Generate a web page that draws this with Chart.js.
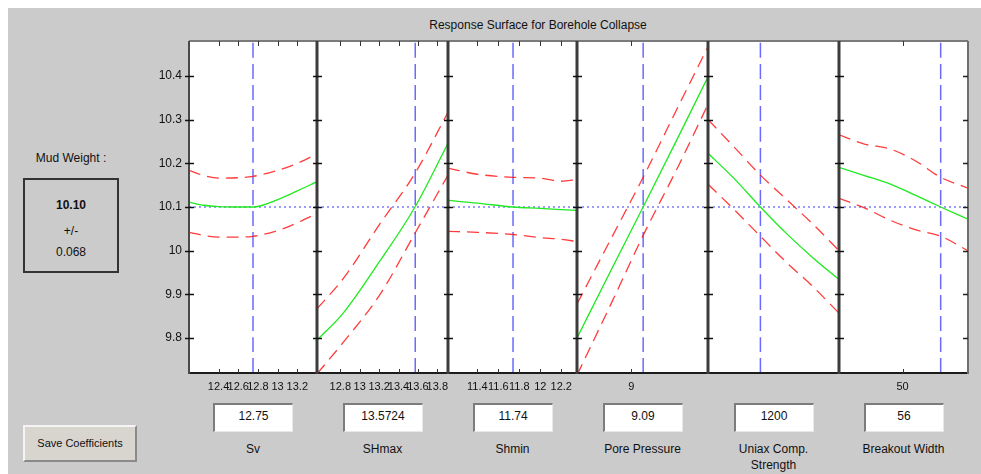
<!DOCTYPE html>
<html>
<head>
<meta charset="utf-8">
<script src="https://cdn.jsdelivr.net/npm/chart.js@4.4.1/dist/chart.umd.min.js"></script>
<style>
body { margin:0; width:981px; height:474px; background:#fff; overflow:hidden; position:relative;
  font-family:"Liberation Sans", Arial, sans-serif; color:#111 }
#panel { position:absolute; left:8px; top:8px; right:0; bottom:0; background:#cbcbcb }
canvas { position:absolute }
.txt { position:absolute; text-align:center; font-size:12px; white-space:nowrap }
.mwbox { position:absolute; left:23px; top:178px; width:96px; height:95px; box-sizing:border-box;
  border:2px solid #333; }
.edit { position:absolute; width:80px; height:29px; box-sizing:border-box; background:#fff;
  border-top:2px solid #7c7c7c; border-left:2px solid #7c7c7c; border-bottom:1px solid #e8e8e8; border-right:1px solid #e8e8e8;
  font-size:12px; text-align:center; line-height:22px }
.btn { position:absolute; left:23px; top:425px; width:114px; height:37px; box-sizing:border-box; background:#d8d5cf;
  border-top:2px solid #f4f4f4; border-left:2px solid #f4f4f4; border-bottom:2px solid #8a8a8a; border-right:2px solid #8a8a8a;
  font-size:11px; text-align:center; line-height:33px }
</style>
</head>
<body>
<div id="panel"></div>
<div class="txt" style="left:338px;width:400px;top:18px">Response Surface for Borehole Collapse</div>
<div class="txt" style="left:11px;width:120px;top:151px">Mud Weight :</div>
<div class="mwbox"></div>
<div class="txt" style="left:23px;width:96px;top:198px;font-weight:bold" id="mw"></div>
<div class="txt" style="left:23px;width:96px;top:224px">+/-</div>
<div class="txt" style="left:23px;width:96px;top:245px" id="mwerr"></div>
<div class="btn">Save Coefficients</div>

<script>
// mud weight result
const mudWeight = '10.10'
const mudWeightErr = '0.068'

// y axis (mud weight)
const yMin = 9.72, yMax = 10.48
const yTicks = [9.8, 9.9, 10, 10.1, 10.2, 10.3, 10.4]
const yLabels = ['9.8', '9.9', '10', '10.1', '10.2', '10.3', '10.4']
const target = 10.1

// panels
const names = ['Sv', 'SHmax', 'Shmin', 'Pore Pressure', 'Uniax Comp.<br>Strength', 'Breakout Width']
const current = [12.75, 13.5724, 11.74, 9.09, 1200, 56]
const xMin = [12.1, 12.56, 11.12, 8.59, 800, 40]
const xMax = [13.4, 13.91, 12.35, 9.58, 1800, 60.3]

const svTicks = [12.4, 12.6, 12.8, 13, 13.2]
const shmaxTicks = [12.8, 13, 13.2, 13.4, 13.6, 13.8]
const shminTicks = [11.4, 11.6, 11.8, 12, 12.2]
const ppTicks = [9]
const ucsTicks = []
const bwTicks = [50]

// Sv
const svX = [12.1, 12.25, 12.4, 12.6, 12.75, 13.0, 13.2, 13.4]
const svFit = [10.111, 10.104, 10.101, 10.1, 10.1, 10.117, 10.137, 10.158]
const svUp = [10.184, 10.172, 10.166, 10.167, 10.17, 10.184, 10.2, 10.222]
const svLo = [10.042, 10.035, 10.031, 10.031, 10.033, 10.046, 10.064, 10.085]
// SHmax
const shmaxX = [12.56, 12.83, 13.21, 13.57, 13.91]
const shmaxFit = [9.795, 9.857, 9.977, 10.1, 10.246]
const shmaxUp = [9.867, 9.936, 10.062, 10.177, 10.317]
const shmaxLo = [9.718, 9.79, 9.9, 10.04, 10.173]
// Shmin
const shminX = [11.12, 11.4, 11.74, 12.0, 12.2, 12.35]
const shminFit = [10.115, 10.109, 10.1, 10.097, 10.094, 10.092]
const shminUp = [10.189, 10.175, 10.168, 10.166, 10.159, 10.163]
const shminLo = [10.044, 10.042, 10.037, 10.03, 10.026, 10.021]
// Pore Pressure
const ppX = [8.59, 8.85, 9.09, 9.35, 9.58]
const ppFit = [9.8, 9.957, 10.1, 10.257, 10.398]
const ppUp = [9.878, 10.029, 10.168, 10.327, 10.467]
const ppLo = [9.715, 9.88, 10.035, 10.19, 10.335]
// Uniax Comp. Strength
const ucsX = [800, 1000, 1200, 1400, 1600, 1800]
const ucsFit = [10.223, 10.165, 10.1, 10.039, 9.984, 9.934]
const ucsUp = [10.3, 10.237, 10.173, 10.117, 10.061, 10.0]
const ucsLo = [10.152, 10.094, 10.033, 9.973, 9.918, 9.857]
// Breakout Width
const bwX = [40, 44, 48, 52, 56, 60.3]
const bwFit = [10.191, 10.172, 10.153, 10.127, 10.1, 10.072]
const bwUp = [10.265, 10.244, 10.233, 10.206, 10.168, 10.143]
const bwLo = [10.12, 10.098, 10.07, 10.048, 10.033, 10.0]

const panelX = [svX, shmaxX, shminX, ppX, ucsX, bwX]
const fits = [svFit, shmaxFit, shminFit, ppFit, ucsFit, bwFit]
const uppers = [svUp, shmaxUp, shminUp, ppUp, ucsUp, bwUp]
const lowers = [svLo, shmaxLo, shminLo, ppLo, ucsLo, bwLo]
const xTicks = [svTicks, shmaxTicks, shminTicks, ppTicks, ucsTicks, bwTicks]

// layout
const PL = [189, 317, 448, 577, 708, 839, 968]
const PLOT_TOP = 41, PLOT_BOTTOM = 373
const YAXIS_W = 39, PAD = 4, XAXIS_H = 26

Chart.defaults.font.family = '"Liberation Sans", Arial, sans-serif'
Chart.defaults.color = '#111'

document.getElementById('mw').textContent = mudWeight
document.getElementById('mwerr').textContent = mudWeightErr

function pts(xs, ys) {
  return xs.map((x, k) => ({x: x, y: ys[k]}))
}

function seg(ctx, x1, y1, x2, y2, color, w) {
  ctx.strokeStyle = color
  ctx.lineWidth = w
  ctx.beginPath()
  ctx.moveTo(x1, y1)
  ctx.lineTo(x2, y2)
  ctx.stroke()
}

const framePlugin = {
  id: 'frame',
  beforeDraw(chart) {
    const a = chart.chartArea, ctx = chart.ctx
    ctx.save()
    ctx.fillStyle = '#fff'
    ctx.fillRect(a.left, a.top, a.right - a.left, a.bottom - a.top)
    ctx.restore()
  },
  afterDatasetsDraw(chart, args, opts) {
    const {ctx, chartArea: a, scales: {x, y}} = chart
    ctx.save()
    seg(ctx, a.left, a.top, a.right, a.top, '#7a7a7a', 2)
    seg(ctx, a.left - 1, a.bottom, a.right + 1, a.bottom, '#1c1c1c', 2)
    if (opts.first) seg(ctx, a.left, a.top, a.left, a.bottom + 1, '#4a4a4a', 2)
    else seg(ctx, a.left, a.top, a.left, a.bottom + 1, '#3c3c3c', 3)
    if (opts.last) seg(ctx, a.right, a.top, a.right, a.bottom + 1, '#6e6e6e', 2)
    yTicks.forEach(v => {
      const py = Math.round(y.getPixelForValue(v)) + 0.5
      seg(ctx, a.left - 4, py, a.left + 5, py, '#111', 1.5)
      if (opts.last) seg(ctx, a.right - 5, py, a.right, py, '#222', 1.5)
    })
    opts.ticks.forEach(v => {
      const px = Math.round(x.getPixelForValue(v)) + 0.5
      seg(ctx, px, a.top, px, a.top + 5, '#333', 1)
      seg(ctx, px, a.bottom, px, a.bottom - 4, '#333', 1)
    })
    ctx.restore()
  }
}

function makePanel(i) {
  const first = i === 0, last = i === 5
  const leftExtra = first ? YAXIS_W : PAD
  const cv = document.createElement('canvas')
  const w = PL[i + 1] - PL[i] + leftExtra + PAD
  const h = PLOT_BOTTOM - PLOT_TOP + PAD + XAXIS_H
  cv.width = w
  cv.height = h
  cv.style.left = (PL[i] - leftExtra) + 'px'
  cv.style.top = (PLOT_TOP - PAD) + 'px'
  document.body.appendChild(cv)

  const ticks = xTicks[i]
  const xs = panelX[i]

  new Chart(cv, {
    type: 'line',
    data: {
      datasets: [
        {data: pts(xs, fits[i]), borderColor: '#1fea1f', borderWidth: 1.3},
        {data: pts(xs, uppers[i]), borderColor: 'rgba(255,25,25,0.85)', borderWidth: 1.3, borderDash: [12, 7]},
        {data: pts(xs, lowers[i]), borderColor: 'rgba(255,25,25,0.85)', borderWidth: 1.3, borderDash: [12, 7]},
        {data: [{x: current[i], y: yMin}, {x: current[i], y: yMax}], borderColor: 'rgba(80,80,255,0.85)', borderWidth: 1.5, borderDash: [15, 6]},
        {data: [{x: xMin[i], y: target}, {x: xMax[i], y: target}], borderColor: '#3a3aff', borderWidth: 1.2, borderDash: [2, 3]}
      ]
    },
    options: {
      responsive: false,
      animation: false,
      events: [],
      layout: { padding: {left: first ? 0 : PAD, right: PAD, top: PAD, bottom: 0} },
      elements: { point: {radius: 0}, line: {cubicInterpolationMode: 'monotone', fill: false} },
      plugins: {
        legend: {display: false},
        tooltip: {enabled: false},
        frame: {first: first, last: last, ticks: ticks}
      },
      scales: {
        x: {
          type: 'linear',
          min: xMin[i],
          max: xMax[i],
          grid: {display: false, drawTicks: false},
          border: {display: false},
          afterBuildTicks: s => { if (ticks.length) s.ticks = ticks.map(v => ({value: v})) },
          afterFit: s => { s.height = XAXIS_H; s.paddingLeft = 0; s.paddingRight = 0 },
          ticks: {
            display: ticks.length > 0,
            autoSkip: false,
            maxRotation: 0,
            padding: 7,
            font: {size: 11},
            callback: (v) => String(v)
          }
        },
        y: {
          display: first,
          min: yMin,
          max: yMax,
          grid: {display: false, drawTicks: false},
          border: {display: false},
          afterBuildTicks: s => { s.ticks = yTicks.map(v => ({value: v})) },
          afterFit: s => { s.width = first ? YAXIS_W : 0; s.paddingTop = 0; s.paddingBottom = 0 },
          ticks: {
            padding: 7,
            font: {size: 12},
            callback: (v, k) => yLabels[k]
          }
        }
      }
    },
    plugins: [framePlugin]
  })

  const cx = (PL[i] + PL[i + 1]) / 2
  const box = document.createElement('div')
  box.className = 'edit'
  box.style.left = (cx - 40) + 'px'
  box.style.top = '403px'
  box.textContent = String(current[i])
  document.body.appendChild(box)

  const cap = document.createElement('div')
  cap.className = 'txt'
  cap.style.left = (cx - 65) + 'px'
  cap.style.width = '130px'
  cap.style.top = '441px'
  cap.style.lineHeight = '16px'
  cap.innerHTML = names[i]
  document.body.appendChild(cap)
}

for (let i = 0; i < 6; i++) makePanel(i)
</script>
</body>
</html>
